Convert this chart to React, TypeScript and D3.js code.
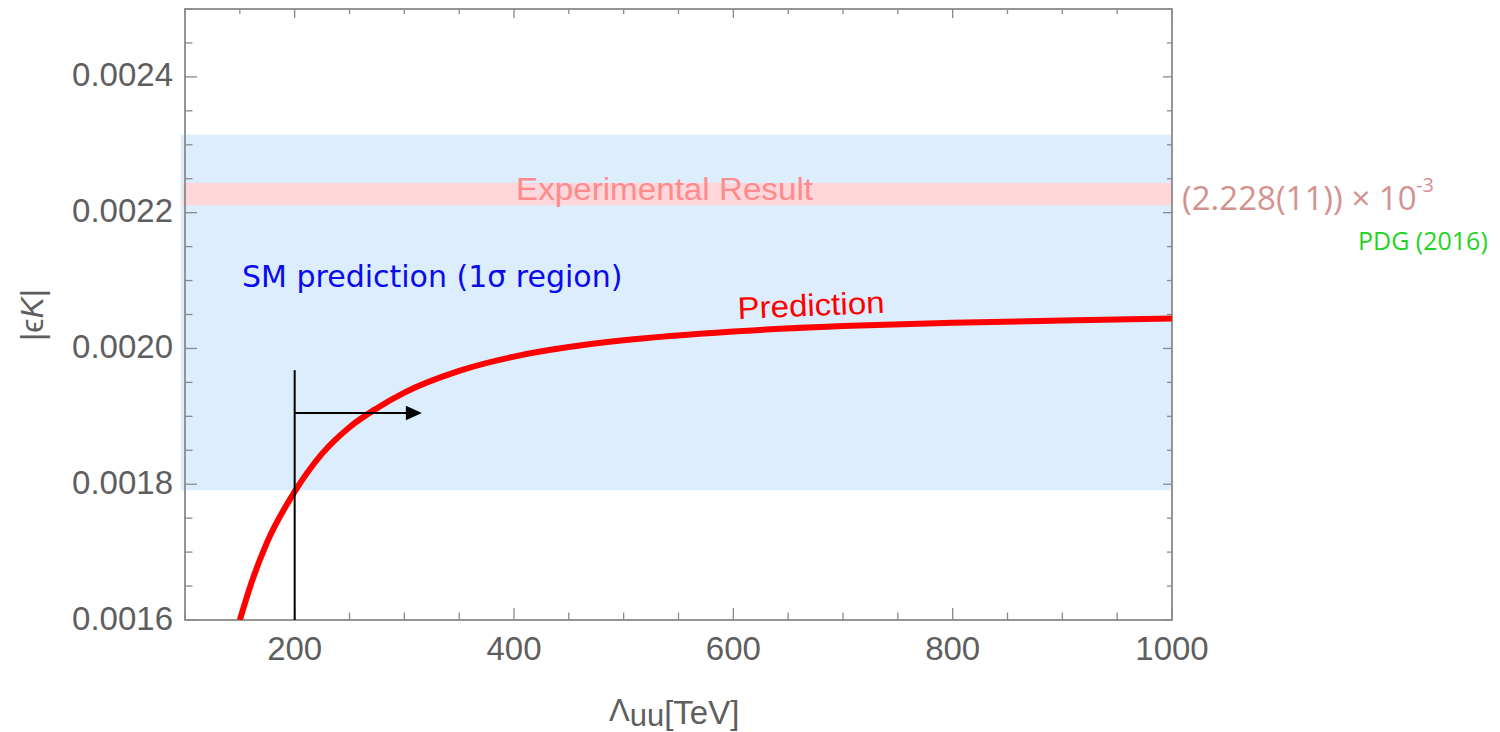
import * as d3 from "d3";

// prediction curve
const curveX = [150, 160, 175, 200, 225, 250, 275, 300, 350, 400, 450, 500, 600, 700, 800, 900, 1000];
const curveY = [
  0.0016, 0.001652, 0.001715, 0.001789, 0.001845, 0.001884, 0.001912, 0.001935, 0.001967,
  0.001988, 0.002002, 0.002012, 0.002025, 0.002033, 0.002038, 0.002041, 0.002044,
];

// bands: SM 1 sigma region and experimental value
const smBand = [0.001791, 0.002315];
const expBand = [0.002211, 0.002244];
const bandStartX = 96;

// cutoff marker
const cutoffX = 200;
const cutoffTop = 0.001968;
const arrowY = 0.001905;
const arrowEndX = 316;

const xMajor = [200, 400, 600, 800, 1000];
const xMinor = d3.range(100, 1001, 50);
const yMajor = [0.0016, 0.0018, 0.002, 0.0022, 0.0024];
const yMinor = d3.range(0.0016, 0.00251, 0.00005);

export default function App() {
  const margin = { top: 9, right: 328, bottom: 112, left: 185 };
  const W = 1500;
  const H = 732;
  const x = d3.scaleLinear().domain([100, 1000]).range([margin.left, W - margin.right]);
  const y = d3.scaleLinear().domain([0.0016, 0.0025]).range([H - margin.bottom, margin.top]);
  const [x0, x1] = x.range();
  const [y0, y1] = y.range(); // y0 bottom, y1 top

  const line = d3
    .line<number>()
    .x((d, i) => x(curveX[i]))
    .y((d) => y(d))
    .curve(d3.curveMonotoneX);

  const axisCol = "#8a8a8a";
  const labCol = "#5e5e5e";
  const fmt = d3.format(".4f");
  const isMajorX = (v: number) => xMajor.includes(v);
  const isMajorY = (v: number) => yMajor.some((m) => Math.abs(m - v) < 1e-9);

  const ax = x(arrowEndX);
  const ay = y(arrowY);

  return (
    <svg
      width={W}
      height={H}
      style={{ position: "absolute", left: 0, top: 0, background: "#fff" }}
      fontFamily="'Liberation Sans', Arial, sans-serif"
    >
      <defs>
        <clipPath id="plot">
          <rect x={x0} y={y1} width={x1 - x0} height={y0 - y1} />
        </clipPath>
      </defs>

      {/* bands */}
      <rect
        x={x(bandStartX)}
        y={y(smBand[1])}
        width={x1 - x(bandStartX)}
        height={y(smBand[0]) - y(smBand[1])}
        fill="#dcedfd"
      />
      <rect
        x={x(bandStartX) + 2}
        y={y(expBand[1])}
        width={x1 - x(bandStartX) - 2}
        height={y(expBand[0]) - y(expBand[1])}
        fill="#ffd6da"
      />

      {/* ticks */}
      {xMinor.map((v) => {
        const len = isMajorX(v) ? 12 : 7.5;
        const lenT = isMajorX(v) ? 9 : 5;
        return (
          <g key={"xt" + v} stroke={axisCol} strokeWidth={1.3}>
            <line x1={x(v)} x2={x(v)} y1={y0} y2={y0 - len} />
            <line x1={x(v)} x2={x(v)} y1={y1} y2={y1 + lenT} />
          </g>
        );
      })}
      {yMinor.map((v, i) => {
        const len = isMajorY(v) ? 12 : 7.5;
        const lenR = isMajorY(v) ? 9 : 5;
        return (
          <g key={"yt" + i} stroke={axisCol} strokeWidth={1.3}>
            <line x1={x0} x2={x0 + len} y1={y(v)} y2={y(v)} />
            <line x1={x1} x2={x1 - lenR} y1={y(v)} y2={y(v)} />
          </g>
        );
      })}

      {/* frame */}
      <rect x={x0} y={y1} width={x1 - x0} height={y0 - y1} fill="none" stroke={axisCol} strokeWidth={1.8} />

      {/* tick labels */}
      {xMajor.map((v) => (
        <text key={"xl" + v} x={x(v)} y={660} textAnchor="middle" fontSize={33} fill={labCol}>
          {v}
        </text>
      ))}
      {yMajor.map((v) => (
        <text key={"yl" + v} x={173} y={y(v) + 9.5} textAnchor="end" fontSize={33} fill={labCol}>
          {fmt(v)}
        </text>
      ))}

      {/* axis titles */}
      <text transform="translate(43,315) rotate(-90)" textAnchor="middle" fontSize={32} fill={labCol}>
        |ϵ<tspan fontStyle="italic">K</tspan>|
      </text>
      <text x={609} y={721} fontSize={31} fill={labCol}>
        Λ
        <tspan dy={5} fontSize={31}>
          uu
        </tspan>
        <tspan dy={-2} fontSize={33}>
          [TeV]
        </tspan>
      </text>

      {/* prediction curve */}
      <path
        d={line(curveY) || ""}
        fill="none"
        stroke="#ff0000"
        strokeWidth={6}
        clipPath="url(#plot)"
      />

      {/* cutoff marker */}
      <line x1={x(cutoffX)} x2={x(cutoffX)} y1={y(cutoffTop)} y2={y0} stroke="#000" strokeWidth={2} />
      <line x1={x(cutoffX)} x2={ax - 14} y1={ay} y2={ay} stroke="#000" strokeWidth={2} />
      <path d={`M${ax},${ay}L${ax - 16},${ay - 7.3}L${ax - 16},${ay + 7.3}Z`} fill="#000" />

      {/* annotations */}
      <text x={516} y={200} fontSize={31} fill="#ff8a8c" textLength={297} lengthAdjust="spacingAndGlyphs">
        Experimental Result
      </text>
      <text x={242} y={287} fontSize={30} fill="#0a0af0" fontFamily="'DejaVu Sans', sans-serif">
        SM prediction (1σ region)
      </text>
      <text
        transform="translate(738,319) rotate(-2.4)"
        fontSize={31}
        fill="#ff0000"
        textLength={147}
        lengthAdjust="spacingAndGlyphs"
      >
        Prediction
      </text>
      <text x={1182} y={210} fontSize={33} fill="#d4928e" fontFamily="'Open Sans', sans-serif">
        (2.228(11)) × 10
      </text>
      <text x={1416} y={192} fontSize={20} fill="#d4928e" fontFamily="'Open Sans', sans-serif">
        -3
      </text>
      <text x={1358} y={250} fontSize={25} fill="#1fd41f" fontFamily="'Open Sans', sans-serif">
        PDG (2016)
      </text>
    </svg>
  );
}
